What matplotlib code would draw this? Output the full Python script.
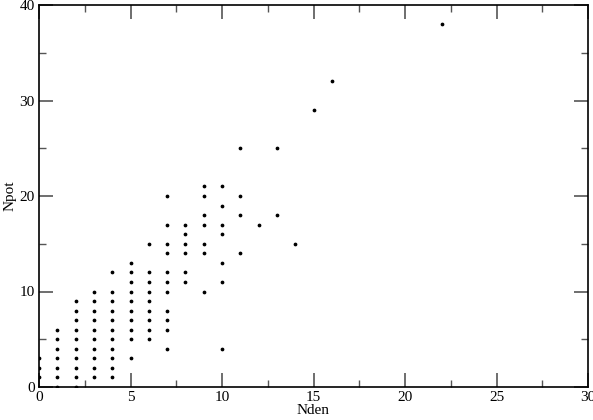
import matplotlib.pyplot as plt
from matplotlib.ticker import MultipleLocator

# (Nden, Npot) pairs, grouped by Nden
nden_values = [0, 1, 2, 3, 4, 5, 6, 7, 8, 9, 10, 11, 12, 13, 14, 15, 16, 22]
npot_by_nden = [
    [1, 2, 3],
    [0, 1, 2, 3, 4, 5, 6],
    [0, 1, 2, 3, 4, 5, 6, 7, 8, 9],
    [1, 2, 3, 4, 5, 6, 7, 8, 9, 10],
    [1, 2, 3, 4, 5, 6, 7, 8, 9, 10, 12],
    [3, 5, 6, 7, 8, 9, 10, 11, 12, 13],
    [5, 6, 7, 8, 9, 10, 11, 12, 15],
    [4, 6, 7, 8, 10, 11, 12, 14, 15, 17, 20],
    [11, 12, 14, 15, 16, 17],
    [10, 14, 15, 17, 18, 20, 21],
    [4, 11, 13, 16, 17, 19, 21],
    [14, 18, 20, 25],
    [17],
    [18, 25],
    [15],
    [29],
    [32],
    [38],
]

xs = []
ys = []
for x, col in zip(nden_values, npot_by_nden):
    for y in col:
        xs.append(x)
        ys.append(y)

plt.rcParams['font.family'] = ['Liberation Serif', 'DejaVu Serif']

fig = plt.figure(figsize=(5.93, 4.20), dpi=100)
ax = fig.add_axes([39 / 593, 33 / 420, 549 / 593, 382 / 420])

ax.plot(xs, ys, linestyle='none', marker='o', markersize=1.7, color='black')

ax.set_xlim(0, 30)
ax.set_ylim(0, 40)
ax.xaxis.set_major_locator(MultipleLocator(5))
ax.xaxis.set_minor_locator(MultipleLocator(2.5))
ax.yaxis.set_major_locator(MultipleLocator(10))
ax.yaxis.set_minor_locator(MultipleLocator(5))
ax.tick_params(which='both', direction='in', top=True, right=True,
               labelsize=11, color='#555555', pad=3)
ax.tick_params(which='major', length=10, width=1.2)
ax.tick_params(which='minor', length=5, width=1)
for s in ax.spines.values():
    s.set_linewidth(1.2)

ax.set_xlabel('Nden', fontsize=11, labelpad=0)
ax.set_ylabel('Npot', fontsize=11, labelpad=2)

fig.savefig('out.png', dpi=100)
plt.close(fig)
